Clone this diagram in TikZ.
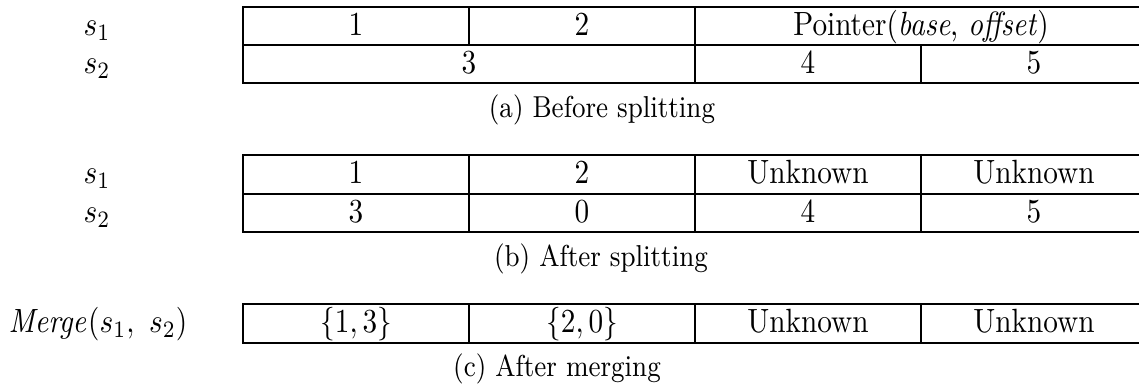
\documentclass[tikz,border=0pt]{standalone}

\begin{document}
\begin{tikzpicture}[x=0.342pt, y=-0.2974pt, yscale=1.15,
    every node/.style={transform shape},
    cell/.style={draw, line width=0.65pt, outer sep=0pt, inner sep=0pt, anchor=north west,
      minimum width=77.3pt, minimum height=11.39pt, text height=8.5pt, text depth=2.89pt},
    wide/.style={cell, minimum width=154.6pt},
    lbl/.style={inner sep=0pt, text height=8.5pt, text depth=2.89pt},
    caption/.style={font=\small, inner sep=0pt}]
  \useasboundingbox (0,0) rectangle (1139,387);

  % (a) before splitting
  \node[lbl] (as1) at (97,25.9) {$s_1$};
  \node[lbl] (as2) at (97,64.2) {$s_2$};
  \node[cell] (a1) at (243,6.7) {1};
  \node[cell] (a2) at (469,6.7) {2};
  \node[wide] (a3) at (695,6.7) {Pointer(\textit{base}, \textit{offset})};
  \node[wide] (a4) at (243,45) {3};
  \node[cell] (a5) at (695,45) {4};
  \node[cell] (a6) at (921,45) {5};
  \node[caption] (acap) at (602,110) {(a) Before splitting};

  % (b) after splitting
  \node[lbl] (bs1) at (97,174.5) {$s_1$};
  \node[lbl] (bs2) at (97,212.8) {$s_2$};
  \node[cell] (b1) at (243,155.4) {1};
  \node[cell] (b2) at (469,155.4) {2};
  \node[cell] (b3) at (695,155.4) {Unknown};
  \node[cell] (b4) at (921,155.4) {Unknown};
  \node[cell] (b5) at (243,193.7) {3};
  \node[cell] (b6) at (469,193.7) {0};
  \node[cell] (b7) at (695,193.7) {4};
  \node[cell] (b8) at (921,193.7) {5};
  \node[caption] (bcap) at (601,259) {(b) After splitting};

  % (c) after merging
  \node[lbl] (cm) at (98,323.5) {$\mathit{Merge}(s_1,\ s_2)$};
  \node[cell] (c1) at (243,304.4) {$\{1,3\}$};
  \node[cell] (c2) at (469,304.4) {$\{2,0\}$};
  \node[cell] (c3) at (695,304.4) {Unknown};
  \node[cell] (c4) at (921,304.4) {Unknown};
  \node[caption] (ccap) at (557,369) {(c) After merging};
\end{tikzpicture}
\end{document}
